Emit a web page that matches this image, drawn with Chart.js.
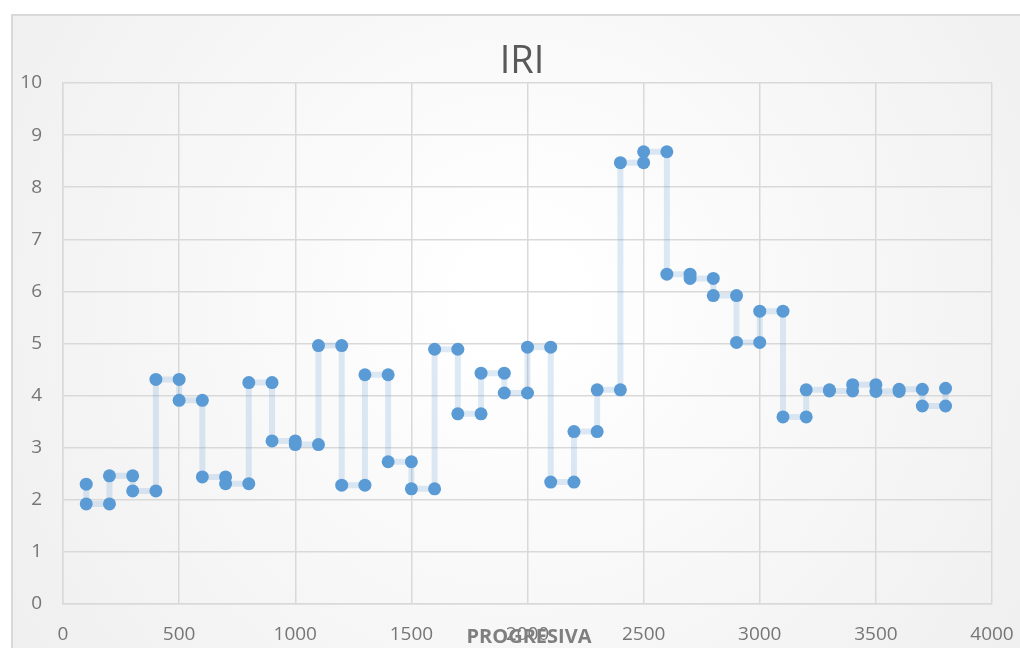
<!DOCTYPE html>
<html>
<head>
<meta charset="utf-8">
<title>IRI</title>
<script src="https://cdn.jsdelivr.net/npm/chart.js@4.4.0/dist/chart.umd.min.js"></script>
<style>
  html, body { margin: 0; padding: 0; background: #ffffff; }
  canvas { display: block; }
</style>
</head>
<body>
<canvas id="iriChart" width="1020" height="648"></canvas>
<script>
// progresiva (m) e IRI, dos puntos por estación (gráfico escalonado)
var progresiva = [
  100, 100, 200, 200, 300, 300, 400, 400, 500, 500,
  600, 600, 700, 700, 800, 800, 900, 900, 1000, 1000,
  1100, 1100, 1200, 1200, 1300, 1300, 1400, 1400, 1500, 1500,
  1600, 1600, 1700, 1700, 1800, 1800, 1900, 1900, 2000, 2000,
  2100, 2100, 2200, 2200, 2300, 2300, 2400, 2400, 2500, 2500,
  2600, 2600, 2700, 2700, 2800, 2800, 2900, 2900, 3000, 3000,
  3100, 3100, 3200, 3200, 3300, 3300, 3400, 3400, 3500, 3500,
  3600, 3600, 3700, 3700, 3800, 3800
];
var iri = [
  2.30, 1.92, 1.92, 2.46, 2.46, 2.17, 2.17, 4.31, 4.31, 3.91,
  3.91, 2.44, 2.44, 2.31, 2.31, 4.25, 4.25, 3.13, 3.13, 3.06,
  3.06, 4.96, 4.96, 2.28, 2.28, 4.40, 4.40, 2.73, 2.73, 2.21,
  2.21, 4.89, 4.89, 3.65, 3.65, 4.43, 4.43, 4.05, 4.05, 4.93,
  4.93, 2.34, 2.34, 3.31, 3.31, 4.11, 4.11, 8.47, 8.47, 8.68,
  8.68, 6.33, 6.33, 6.25, 6.25, 5.92, 5.92, 5.02, 5.02, 5.62,
  5.62, 3.59, 3.59, 4.11, 4.11, 4.09, 4.09, 4.21, 4.21, 4.08,
  4.08, 4.12, 4.12, 3.80, 3.80, 4.14
];
var xTicks = [0, 500, 1000, 1500, 2000, 2500, 3000, 3500, 4000];
var yTicks = [0, 1, 2, 3, 4, 5, 6, 7, 8, 9, 10];

var puntos = progresiva.map(function(x, i) { return { x: x, y: iri[i] }; });

// fondo del área del gráfico (marco gris claro con degradado)
var fondoPlugin = {
  id: 'fondo',
  beforeDraw: function(chart) {
    var ctx = chart.ctx;
    ctx.save();
    ctx.fillStyle = '#ffffff';
    ctx.fillRect(0, 0, chart.width, chart.height);
    var g = ctx.createRadialGradient(520, 300, 50, 520, 300, 620);
    g.addColorStop(0, '#ffffff');
    g.addColorStop(1, '#efefef');
    ctx.fillStyle = g;
    ctx.fillRect(12, 15, chart.width, chart.height);
    ctx.strokeStyle = '#d9d9d9';
    ctx.lineWidth = 2;
    ctx.strokeRect(12, 15, chart.width + 10, chart.height + 10);
    ctx.restore();
  },
  afterDraw: function(chart) {
    var ctx = chart.ctx;
    ctx.save();
    ctx.textAlign = 'center';
    ctx.textBaseline = 'middle';
    ctx.fillStyle = '#595959';
    ctx.font = '38px "Open Sans", sans-serif';
    ctx.fillText('IRI', 522, 62);
    ctx.fillStyle = '#7f7f7f';
    ctx.font = 'bold 20px "Open Sans", sans-serif';
    ctx.fillText('PROGRESIVA', 529, 637);
    ctx.restore();
  }
};

new Chart(document.getElementById('iriChart').getContext('2d'), {
  type: 'scatter',
  data: {
    datasets: [{
      label: 'IRI',
      data: puntos,
      showLine: true,
      borderColor: 'rgba(91, 155, 213, 0.2)',
      borderWidth: 6,
      pointBackgroundColor: '#5b9bd5',
      pointBorderColor: '#5b9bd5',
      pointBorderWidth: 0,
      pointRadius: 6.5
    }]
  },
  options: {
    responsive: false,
    animation: false,
    layout: { padding: { top: 83, right: 28, left: 0, bottom: 0 } },
    plugins: {
      legend: { display: false },
      tooltip: { enabled: false },
      title: { display: false }
    },
    scales: {
      x: {
        type: 'linear',
        min: 0,
        max: 4000,
        afterBuildTicks: function(axis) { axis.ticks = xTicks.map(function(v) { return { value: v }; }); },
        afterFit: function(axis) { axis.height = 44; axis.paddingLeft = 0; axis.paddingRight = 0; },
        grid: { color: '#d9d9d9', lineWidth: 1.5, drawTicks: false },
        border: { color: '#d9d9d9', width: 1.5 },
        ticks: {
          color: '#767676', padding: 19, maxRotation: 0,
          font: { family: 'Open Sans', size: 19 },
          callback: function(v) { return String(v); }
        }
      },
      y: {
        min: 0,
        max: 10,
        afterBuildTicks: function(axis) { axis.ticks = yTicks.map(function(v) { return { value: v }; }); },
        afterFit: function(axis) { axis.width = 63; axis.paddingTop = 0; axis.paddingBottom = 0; },
        grid: { color: '#d9d9d9', lineWidth: 1.5, drawTicks: false },
        border: { color: '#d9d9d9', width: 1.5 },
        ticks: {
          color: '#767676', padding: 21,
          font: { family: 'Open Sans', size: 19 },
          callback: function(v) { return String(v); }
        }
      }
    }
  },
  plugins: [fondoPlugin]
});
</script>
</body>
</html>
